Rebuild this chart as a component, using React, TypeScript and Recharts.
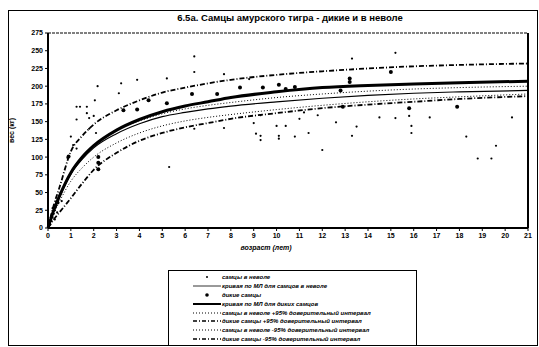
import { ComposedChart, Line, Scatter, XAxis, YAxis, ReferenceLine, Label } from 'recharts'

// curve ages (years) and fitted weights (kg)
const curveAges = [0, 0.25, 0.5, 1, 1.5, 2, 3, 4, 5, 6, 7, 8, 10, 12, 14, 16, 18, 21]
const wildFit = [0, 25, 45, 78, 100, 116, 138, 153, 164, 172, 178, 184, 192, 198, 201, 203, 205, 207]
const captiveFit = [0, 24, 43, 76, 97, 113, 133, 147, 157, 163, 168, 172, 178, 183, 187, 190, 192, 194]
const captiveUpper = [0, 25, 45, 79, 101, 117, 138, 151, 161, 168, 173, 177, 184, 189, 193, 196, 198, 200]
const captiveLower = [0, 20, 37, 66, 85, 100, 120, 134, 144, 151, 156, 160, 167, 173, 178, 182, 185, 189]
const wildUpper = [0, 32, 57, 108, 130, 146, 166, 180, 191, 198, 204, 209, 216, 221, 225, 228, 230, 232]
const wildLower = [0, 12, 22, 42, 63, 82, 106, 123, 134, 142, 148, 154, 162, 169, 174, 178, 182, 186]

// observed males
const captiveAges = [0.1, 0.15, 0.2, 0.25, 0.3, 0.3, 0.35, 0.4, 0.45, 0.5, 0.2, 0.55, 0.6, 0.85, 1.0, 1.1, 1.25, 1.25, 1.25, 1.4, 1.7, 1.7, 1.8, 1.8, 2.0, 2.05, 2.1, 2.17, 3.1, 3.2, 3.9, 4.4, 5.2, 5.3, 6.4, 6.4, 6.4, 7.7, 7.7, 8.8, 9.0, 9.1, 9.3, 9.3, 9.3, 10.0, 10.1, 10.1, 10.4, 10.8, 11.0, 11.2, 11.4, 11.8, 12.0, 12.6, 13.3, 13.3, 13.5, 14.5, 15.2, 15.2, 15.8, 15.9, 15.9, 16.7, 18.3, 18.8, 19.4, 19.6, 20.3]
const captiveWeights = [5, 10, 15, 20, 25, 12, 30, 22, 35, 45, 28, 50, 38, 99, 129, 117, 171, 153, 112, 171, 171, 162, 140, 155, 158, 180, 134, 200, 190, 204, 209, 180, 211, 86, 242, 220, 140, 217, 141, 210, 148, 133, 159, 130, 124, 144, 130, 126, 144, 129, 154, 163, 134, 159, 110, 149, 239, 130, 143, 156, 247, 155, 158, 144, 134, 156, 129, 98, 98, 116, 156]
const wildAges = [0.4, 0.9, 2.2, 2.2, 2.2, 3.3, 3.9, 4.4, 5.2, 6.3, 7.4, 8.4, 9.4, 10.1, 10.4, 10.8, 12.8, 12.9, 13.2, 13.2, 15.0, 15.8, 17.9]
const wildWeights = [37, 101, 92, 83, 100, 166, 167, 180, 176, 189, 189, 198, 198, 202, 196, 199, 194, 171, 206, 211, 220, 169, 171]

const line = (ys: number[]) => curveAges.map((age, i) => ({ age, w: ys[i] }))
const pts = (xs: number[], ys: number[]) => xs.map((age, i) => ({ age, w: ys[i] }))

const xTicks = Array.from({ length: 22 }, (_, i) => i)
const yTicks = [0, 25, 50, 75, 100, 125, 150, 175, 200, 225, 250, 275]

const legendItems = [
  { label: 'самцы в неволе', kind: 'dot' },
  { label: 'кривая по МЛ для самцов в неволе', kind: 'thin' },
  { label: 'дикие самцы', kind: 'bigdot' },
  { label: 'кривая по МЛ для диких самцов', kind: 'thick' },
  { label: 'самцы в неволе +95% доверительный интервал', kind: 'dotted' },
  { label: 'дикие самцы +95% доверительный интервал', kind: 'dashdot' },
  { label: 'самцы в неволе -95% доверительный интервал', kind: 'dotted' },
  { label: 'дикие самцы -95% доверительный интервал', kind: 'dashdot' },
]

const font = '"Liberation Sans", Arial, sans-serif'
const tick = { fill: '#000', fontSize: 7, fontWeight: 700, fontFamily: font }

function LegendSymbol({ kind }: { kind: string }) {
  return (
    <svg width={28} height={6} style={{ display: 'block' }}>
      {kind === 'dot' && <circle cx={14} cy={3} r={1} fill="#000" />}
      {kind === 'bigdot' && <circle cx={14} cy={3} r={1.8} fill="#000" />}
      {kind === 'thin' && <line x1={0} y1={3} x2={28} y2={3} stroke="#000" strokeWidth={0.8} />}
      {kind === 'thick' && <line x1={0} y1={3} x2={28} y2={3} stroke="#000" strokeWidth={2} />}
      {kind === 'dotted' && <line x1={0} y1={3} x2={28} y2={3} stroke="#000" strokeWidth={1} strokeDasharray="1 2" />}
      {kind === 'dashdot' && <line x1={0} y1={3} x2={28} y2={3} stroke="#000" strokeWidth={1.5} strokeDasharray="4 2 1 2" />}
    </svg>
  )
}

export default function App() {
  return (
    <div style={{ position: 'absolute', left: 0, top: 0, width: 539, height: 347, background: '#fff', fontFamily: font }}>
      <div style={{ position: 'absolute', left: 8, top: 10, width: 530, height: 336, border: '1px solid #000', boxSizing: 'border-box' }} />
      <div style={{ position: 'absolute', left: 48, top: 12, width: 484, textAlign: 'center', fontSize: 9.5, fontWeight: 700 }}>
        6.5а. Самцы амурского тигра - дикие и в неволе
      </div>
      <div style={{ position: 'absolute', left: 0, top: 0 }}>
        <ComposedChart width={539} height={347} margin={{ top: 33, right: 11, bottom: 89, left: 0 }}>
          <XAxis
            dataKey="age"
            type="number"
            domain={[0, 21]}
            ticks={xTicks}
            interval={0}
            tick={tick}
            tickLine={{ stroke: '#000' }}
            axisLine={{ stroke: '#000', strokeWidth: 2 }}
            tickSize={3}
            height={30}
          >
            <Label value="возраст (лет)" position="insideBottom" offset={8} dx={-22} style={{ fontSize: 7, fontWeight: 700, fontFamily: font, fill: '#000', fontStyle: 'italic' }} />
          </XAxis>
          <YAxis
            type="number"
            domain={[0, 275]}
            ticks={yTicks}
            interval={0}
            tick={tick}
            tickLine={{ stroke: '#000' }}
            axisLine={{ stroke: '#000', strokeWidth: 2 }}
            tickSize={3}
            width={48}
          >
            <Label value="вес (кг)" angle={-90} position="insideLeft" offset={12} style={{ fontSize: 7, fontWeight: 700, fontFamily: font, fill: '#000', textAnchor: 'middle' }} />
          </YAxis>
          <ReferenceLine y={275} stroke="#000" strokeWidth={1} strokeDasharray="3 1" />
          <ReferenceLine x={21} stroke="#000" strokeWidth={2} />
          <Line data={line(captiveUpper)} dataKey="w" type="monotone" stroke="#000" strokeWidth={1} strokeDasharray="1 2" dot={false} isAnimationActive={false} />
          <Line data={line(captiveLower)} dataKey="w" type="monotone" stroke="#000" strokeWidth={1} strokeDasharray="1 2" dot={false} isAnimationActive={false} />
          <Line data={line(wildUpper)} dataKey="w" type="monotone" stroke="#000" strokeWidth={1.8} strokeDasharray="5 2 1 2" dot={false} isAnimationActive={false} />
          <Line data={line(wildLower)} dataKey="w" type="monotone" stroke="#000" strokeWidth={1.8} strokeDasharray="5 2 1 2" dot={false} isAnimationActive={false} />
          <Line data={line(captiveFit)} dataKey="w" type="monotone" stroke="#000" strokeWidth={1.2} dot={false} isAnimationActive={false} />
          <Line data={line(wildFit)} dataKey="w" type="monotone" stroke="#000" strokeWidth={3} dot={false} isAnimationActive={false} />
          <Scatter data={pts(captiveAges, captiveWeights)} dataKey="w" fill="#000" shape={(p: any) => <circle cx={p.cx} cy={p.cy} r={1.1} fill="#000" />} isAnimationActive={false} />
          <Scatter data={pts(wildAges, wildWeights)} dataKey="w" fill="#000" shape={(p: any) => <circle cx={p.cx} cy={p.cy} r={2} fill="#000" />} isAnimationActive={false} />
        </ComposedChart>
      </div>
      <div style={{ position: 'absolute', left: 168, top: 270, width: 249, height: 76, border: '1px solid #000', boxSizing: 'border-box', padding: '2px 0 0 24px' }}>
        {legendItems.map((it, i) => (
          <div key={i} style={{ display: 'flex', alignItems: 'center', height: 8.8, fontSize: 6, fontWeight: 700, fontStyle: 'italic', whiteSpace: 'nowrap' }}>
            <LegendSymbol kind={it.kind} />
            <span style={{ marginLeft: 1 }}>{it.label}</span>
          </div>
        ))}
      </div>
    </div>
  )
}
